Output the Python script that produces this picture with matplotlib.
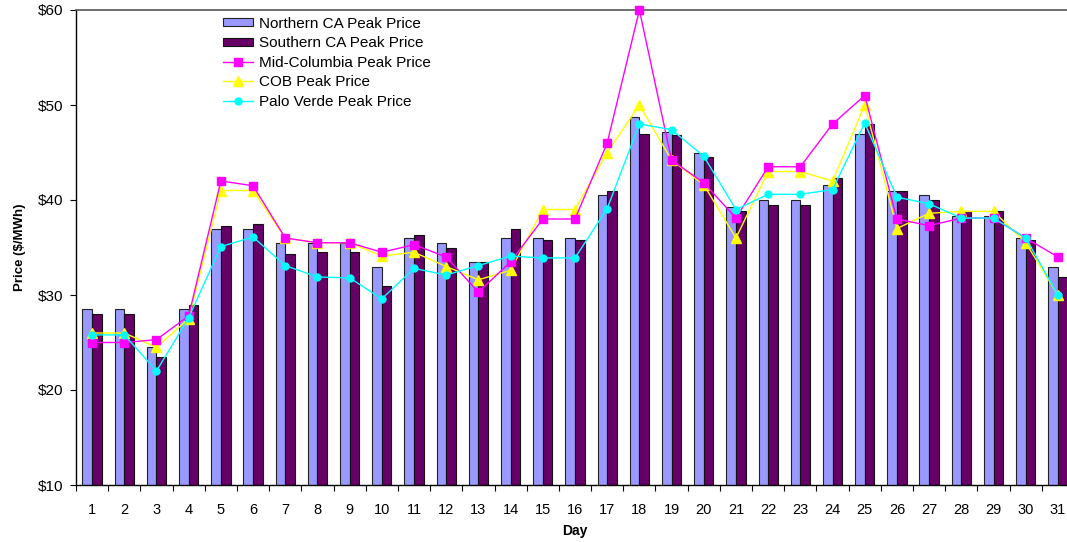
import matplotlib
matplotlib.use("Agg")
import matplotlib.pyplot as plt
import numpy as np
from matplotlib.patches import Patch
from matplotlib.lines import Line2D

plt.rcParams['font.family'] = ['Liberation Sans', 'DejaVu Sans']

days = list(range(1, 32))
northern_ca = [28.5, 28.5, 24.5, 28.5, 37.0, 37.0, 35.5, 35.5, 35.5, 33.0,
               36.0, 35.5, 33.5, 36.0, 36.0, 36.0, 40.5, 48.7, 47.2, 45.0,
               39.3, 40.0, 40.0, 41.6, 47.0, 41.0, 40.5, 38.3, 38.3, 36.0, 33.0]
southern_ca = [28.0, 28.0, 23.5, 29.0, 37.3, 37.5, 34.3, 34.5, 34.5, 31.0,
               36.3, 35.0, 33.5, 37.0, 35.8, 35.8, 41.0, 47.0, 46.8, 44.5,
               38.8, 39.5, 39.5, 42.3, 48.0, 41.0, 40.0, 38.8, 38.8, 35.8, 31.9]
mid_columbia = [25.0, 25.0, 25.3, 27.8, 42.0, 41.5, 36.0, 35.5, 35.5, 34.5,
                35.3, 34.0, 30.3, 33.5, 38.0, 38.0, 46.0, 60.0, 44.2, 41.8,
                38.1, 43.5, 43.5, 48.0, 51.0, 38.0, 37.3, 38.1, 38.1, 36.0, 34.0]
cob = [26.0, 26.0, 24.5, 27.5, 41.0, 41.0, 36.0, 35.5, 35.5, 34.1,
       34.5, 33.0, 31.6, 32.6, 39.0, 39.0, 45.0, 50.0, 44.2, 41.6,
       36.0, 43.0, 43.0, 42.0, 50.0, 37.0, 38.6, 38.8, 38.8, 35.5, 30.0]
palo_verde = [25.8, 25.8, 22.0, 27.6, 35.1, 36.1, 33.1, 31.9, 31.8, 29.6,
              32.8, 32.1, 33.1, 34.1, 33.9, 33.9, 39.1, 48.0, 47.4, 44.6,
              39.0, 40.6, 40.6, 41.1, 48.1, 40.3, 39.6, 38.1, 38.1, 36.0, 30.0]
y_ticks = [10, 20, 30, 40, 50, 60]
y_tick_labels = ["$10", "$20", "$30", "$40", "$50", "$60"]

fig = plt.figure(figsize=(10.67, 5.42), dpi=100)
ax = fig.add_axes([76 / 1067, 57 / 542, 998 / 1067, 475 / 542])

x = np.arange(len(days))
bw = 0.3
ax.bar(x - bw / 2, northern_ca, width=bw, color='#9999FF',
       edgecolor='#222222', linewidth=0.8, zorder=2)
ax.bar(x + bw / 2, southern_ca, width=bw, color='#660066',
       edgecolor='#111111', linewidth=0.8, zorder=2)

ax.plot(x, mid_columbia, color='#FF00FF', lw=1.0, marker='s', ms=5.5,
        zorder=4, clip_on=False)
ax.plot(x, cob, color='#FFFF00', lw=1.0, marker='^', ms=6.5, zorder=3,
        clip_on=False)
ax.plot(x, palo_verde, color='#00FFFF', lw=1.0, marker='o', ms=5.0,
        zorder=5, clip_on=False)

ax.set_xlim(-0.5, len(days) - 0.5)
ax.set_ylim(10, 60)
ax.set_yticks(y_ticks)
ax.set_yticklabels(y_tick_labels, fontsize=11)

# tick marks between days, labels centred under each day
ax.set_xticks(np.arange(-0.5, len(days), 1.0))
ax.set_xticklabels([])
ax.set_xticks(x, minor=True)
ax.set_xticklabels([str(d) for d in days], minor=True, fontsize=10.5)
ax.tick_params(axis='x', which='major', direction='out', length=4, width=0.8)
ax.tick_params(axis='x', which='minor', length=0, pad=13)
ax.tick_params(axis='y', direction='out', length=4, width=0.8, pad=5)

for side in ['left', 'bottom']:
    ax.spines[side].set_color('black')
    ax.spines[side].set_linewidth(1.0)
ax.spines['top'].set_color('#555555')
ax.spines['top'].set_linewidth(1.2)
ax.spines['right'].set_visible(False)

ax.set_xlabel('Day', fontsize=10, fontweight='bold', labelpad=5)
ax.set_ylabel('Price ($/MWh)', fontsize=9.5, fontweight='bold', labelpad=9)

handles = [
    Patch(facecolor='#9999FF', edgecolor='#222222', linewidth=0.8),
    Patch(facecolor='#660066', edgecolor='#111111', linewidth=0.8),
    Line2D([], [], color='#FF00FF', lw=1.0, marker='s', ms=5.5),
    Line2D([], [], color='#FFFF00', lw=1.0, marker='^', ms=6.5),
    Line2D([], [], color='#00FFFF', lw=1.0, marker='o', ms=5.0),
]
labels = ['Northern CA Peak Price', 'Southern CA Peak Price',
          'Mid-Columbia Peak Price', 'COB Peak Price', 'Palo Verde Peak Price']
fig.legend(handles, labels, loc='upper left',
           bbox_to_anchor=(212 / 1067, 1 - 6 / 542), frameon=False,
           fontsize=11, handlelength=2.0, handleheight=0.45,
           labelspacing=0.36, handletextpad=0.35, borderpad=0.2)

fig.savefig('out.png', dpi=100)
